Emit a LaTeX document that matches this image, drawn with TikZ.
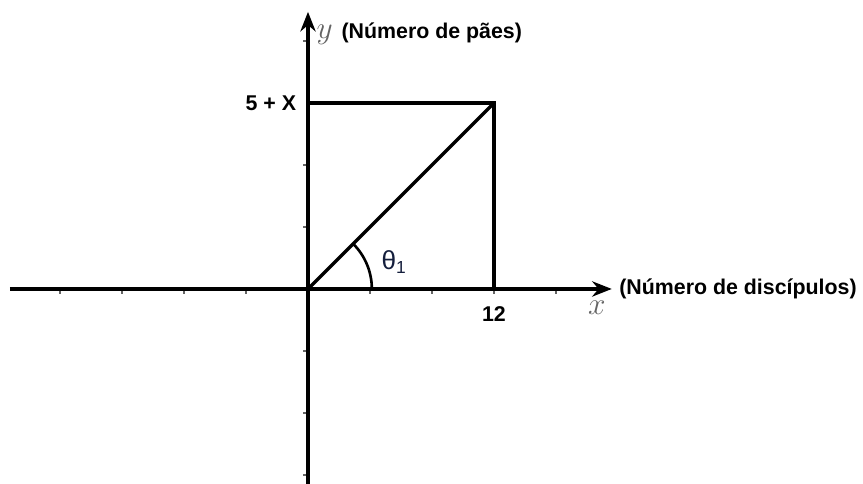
\documentclass[tikz,border=0pt]{standalone}
\usepackage{fontspec}
\setmainfont{Liberation Sans}
\usetikzlibrary{arrows.meta, positioning}
\definecolor{axisgray}{RGB}{100,100,100}
\definecolor{thetablue}{RGB}{20,30,60}

\begin{document}
\begin{tikzpicture}[
    axis/.style={line width=1.5pt, -{Stealth[length=9pt, width=7pt]}},
    bar/.style={line width=1.5pt},
    tick/.style={axisgray, line width=0.5pt},
    lbl/.style={font=\fontsize{9.8}{12}\selectfont\bfseries, inner sep=1pt},
    var/.style={axisgray, font=\Large, inner sep=1pt}
  ]
    \useasboundingbox (-4.968,-3.145) rectangle (8.952,4.661);
    % axes
    \coordinate (O) at (0,0);
    \coordinate (xmin) at (-4.81,0);
    \coordinate (xmax) at (4.9,0);
    \coordinate (ymin) at (0,-3.145);
    \coordinate (ymax) at (0,4.47);
    % small ticks on both axes
    \foreach \t in {-4,-3,-2,-1,1,2,3,4} {
      \draw[tick] (\t,0) -- (\t,-0.08);
    }
    \foreach \t in {-3,-2,-1,1,2,4} {
      \draw[tick] (0,\t) -- (-0.08,\t);
    }
    \draw[axis] (xmin) -- (xmax);
    \draw[axis] (ymin) -- (ymax);
    % the point and its box
    \coordinate (P) at (3,3);
    \coordinate (Px) at (3,0);
    \coordinate (Py) at (0,3);
    \draw[bar] (Py) -- (P) -- (Px);
    \draw[bar] (O) -- (P);
    % angle
    \draw[line width=1.2pt] (1.03,0) arc (0:45:1.03);
    \node[thetablue, font=\large, inner sep=1pt] (theta) at (1.39,0.44) {θ\textsubscript{1}};
    % labels
    \node[lbl, anchor=east] (ylab) at (-0.15,3) {5 + X};
    \node[lbl, below=7pt of Px] (xlab) {12};
    \node[var] (xvar) at (4.66,-0.31) {$x$};
    \node[var] (yvar) at (0.27,4.1) {$y$};
    \node[lbl, anchor=west] (ytext) at (0.5,4.13) {(Número de pães)};
    \node[lbl, anchor=west] (xtext) at (4.98,0) {(Número de discípulos)};
  \end{tikzpicture}
\end{document}
